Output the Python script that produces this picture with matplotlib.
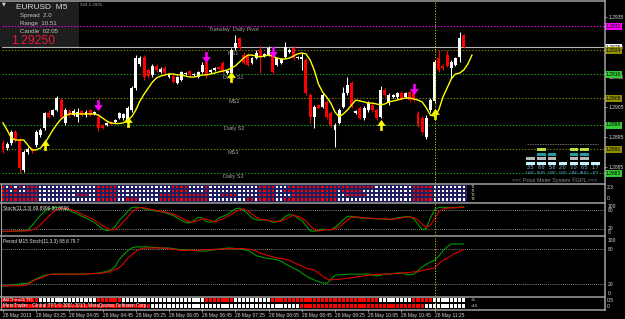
import numpy as np
import matplotlib
matplotlib.use('Agg')
import matplotlib.pyplot as plt
from matplotlib.colors import ListedColormap
from matplotlib.patches import Rectangle
from matplotlib.lines import Line2D
from matplotlib.path import Path
from matplotlib.transforms import blended_transform_factory as blend

# ---------------- data ----------------
symbol_line = 'EURUSD  M5'
spread_line = 'Spread  2.0'
range_line = 'Range  10.51'
candle_line = 'Candle  02:05'
last_price = 1.29250

opens = [1.28930, 1.28913, 1.28930, 1.28967, 1.28940, 1.28840, 1.28900, 1.28910, 1.28923, 1.28957,
         1.28980, 1.29030, 1.29023, 1.29040, 1.29073, 1.28997, 1.29037, 1.29023, 1.29017, 1.29037,
         1.29023, 1.29040, 1.29027, 1.29017, 1.28990, 1.28990, 1.29000, 1.29000, 1.29013, 1.29013,
         1.29007, 1.29040, 1.29113, 1.29193, 1.29217, 1.29173, 1.29157, 1.29187, 1.29167, 1.29180,
         1.29150, 1.29153, 1.29130, 1.29140, 1.29160, 1.29170, 1.29157, 1.29150, 1.29167, 1.29200,
         1.29167, 1.29173, 1.29183, 1.29197, 1.29163, 1.29163, 1.29247, 1.29280, 1.29223, 1.29223,
         1.29197, 1.29213, 1.29240, 1.29220, 1.29223, 1.29230, 1.29190, 1.29197, 1.29217, 1.29233,
         1.29247, 1.29213, 1.29210, 1.29207, 1.29090, 1.29017, 1.29057, 1.29050, 1.29067, 1.29030,
         1.28973, 1.28997, 1.29050, 1.29097, 1.29130, 1.29030, 1.29047, 1.29013, 1.29040, 1.29057,
         1.29040, 1.29017, 1.29107, 1.29063, 1.29083, 1.29083, 1.29097, 1.29083, 1.29100, 1.29097,
         1.29030, 1.29013, 1.28950, 1.29040, 1.29070, 1.29213, 1.29187, 1.29223, 1.29180, 1.29190,
         1.29217, 1.29290]
highs = [1.28940, 1.28933, 1.28973, 1.28973, 1.28947, 1.28907, 1.28917, 1.28913, 1.28973, 1.28980,
         1.29033, 1.29040, 1.29043, 1.29087, 1.29080, 1.29047, 1.29043, 1.29043, 1.29047, 1.29040,
         1.29040, 1.29043, 1.29037, 1.29027, 1.28993, 1.29000, 1.29003, 1.29010, 1.29033, 1.29030,
         1.29053, 1.29120, 1.29223, 1.29220, 1.29223, 1.29180, 1.29193, 1.29193, 1.29183, 1.29187,
         1.29163, 1.29160, 1.29153, 1.29170, 1.29167, 1.29173, 1.29163, 1.29170, 1.29200, 1.29223,
         1.29177, 1.29183, 1.29187, 1.29203, 1.29173, 1.29247, 1.29290, 1.29283, 1.29233, 1.29230,
         1.29217, 1.29240, 1.29257, 1.29230, 1.29253, 1.29240, 1.29217, 1.29213, 1.29267, 1.29247,
         1.29253, 1.29220, 1.29230, 1.29213, 1.29097, 1.29057, 1.29060, 1.29097, 1.29073, 1.29037,
         1.28997, 1.29047, 1.29117, 1.29150, 1.29137, 1.29040, 1.29053, 1.29053, 1.29070, 1.29063,
         1.29047, 1.29120, 1.29113, 1.29097, 1.29093, 1.29100, 1.29103, 1.29100, 1.29107, 1.29103,
         1.29037, 1.29020, 1.29023, 1.29080, 1.29207, 1.29240, 1.29193, 1.29240, 1.29207, 1.29217,
         1.29300, 1.29293]
lows = [1.28897, 1.28907, 1.28923, 1.28933, 1.28830, 1.28833, 1.28893, 1.28897, 1.28917, 1.28950,
        1.28973, 1.29013, 1.29020, 1.29037, 1.29010, 1.28990, 1.29017, 1.29020, 1.29000, 1.29020,
        1.29017, 1.29020, 1.29023, 1.28970, 1.28977, 1.28987, 1.28990, 1.28997, 1.29010, 1.29007,
        1.29000, 1.29033, 1.29107, 1.29187, 1.29140, 1.29147, 1.29150, 1.29167, 1.29163, 1.29157,
        1.29147, 1.29130, 1.29127, 1.29137, 1.29157, 1.29153, 1.29153, 1.29147, 1.29163, 1.29147,
        1.29163, 1.29170, 1.29173, 1.29163, 1.29160, 1.29153, 1.29240, 1.29240, 1.29193, 1.29187,
        1.29193, 1.29210, 1.29163, 1.29217, 1.29220, 1.29160, 1.29187, 1.29193, 1.29213, 1.29230,
        1.29207, 1.29210, 1.29173, 1.29090, 1.28997, 1.28980, 1.29043, 1.29047, 1.29010, 1.28983,
        1.28917, 1.28993, 1.29047, 1.29090, 1.29047, 1.29027, 1.29010, 1.29007, 1.29033, 1.29033,
        1.29007, 1.29013, 1.29083, 1.29057, 1.29080, 1.29077, 1.29073, 1.29080, 1.29070, 1.29067,
        1.28983, 1.28960, 1.28943, 1.29033, 1.29063, 1.29167, 1.29173, 1.29183, 1.29147, 1.29187,
        1.29200, 1.29247]
closes = [1.28907, 1.28927, 1.28967, 1.28940, 1.28847, 1.28900, 1.28910, 1.28903, 1.28967, 1.28973,
          1.29030, 1.29017, 1.29040, 1.29080, 1.29017, 1.29040, 1.29023, 1.29037, 1.29033, 1.29023,
          1.29033, 1.29023, 1.29033, 1.28980, 1.28980, 1.28997, 1.28993, 1.29007, 1.29030, 1.29027,
          1.29047, 1.29113, 1.29213, 1.29213, 1.29150, 1.29153, 1.29187, 1.29173, 1.29177, 1.29163,
          1.29160, 1.29133, 1.29150, 1.29167, 1.29163, 1.29157, 1.29160, 1.29167, 1.29190, 1.29157,
          1.29173, 1.29180, 1.29177, 1.29167, 1.29170, 1.29240, 1.29263, 1.29247, 1.29197, 1.29190,
          1.29213, 1.29230, 1.29220, 1.29227, 1.29247, 1.29167, 1.29213, 1.29210, 1.29250, 1.29240,
          1.29213, 1.29217, 1.29217, 1.29097, 1.29017, 1.29050, 1.29047, 1.29090, 1.29017, 1.28990,
          1.28990, 1.29040, 1.29097, 1.29123, 1.29050, 1.29037, 1.29013, 1.29047, 1.29063, 1.29040,
          1.29013, 1.29107, 1.29090, 1.29090, 1.29090, 1.29097, 1.29077, 1.29097, 1.29073, 1.29073,
          1.28990, 1.28967, 1.29013, 1.29073, 1.29200, 1.29173, 1.29180, 1.29187, 1.29200, 1.29213,
          1.29280, 1.29250]
ma_values = [1.28997, 1.28973, 1.28947, 1.28940, 1.28940, 1.28940, 1.28923, 1.28907, 1.28907, 1.28913,
             1.28927, 1.28950, 1.28973, 1.28993, 1.29010, 1.29020, 1.29027, 1.29027, 1.29027, 1.29027,
             1.29027, 1.29027, 1.29027, 1.29023, 1.29013, 1.29003, 1.28997, 1.28995, 1.28995, 1.28997,
             1.29007, 1.29017, 1.29040, 1.29070, 1.29093, 1.29113, 1.29133, 1.29147, 1.29153, 1.29157,
             1.29160, 1.29160, 1.29157, 1.29157, 1.29153, 1.29150, 1.29150, 1.29153, 1.29157, 1.29157,
             1.29160, 1.29163, 1.29167, 1.29170, 1.29173, 1.29180, 1.29187, 1.29200, 1.29213, 1.29223,
             1.29223, 1.29220, 1.29217, 1.29220, 1.29223, 1.29220, 1.29213, 1.29210, 1.29210, 1.29213,
             1.29220, 1.29227, 1.29230, 1.29227, 1.29207, 1.29173, 1.29127, 1.29100, 1.29083, 1.29063,
             1.29033, 1.29017, 1.29027, 1.29040, 1.29057, 1.29073, 1.29070, 1.29067, 1.29063, 1.29063,
             1.29060, 1.29057, 1.29060, 1.29067, 1.29070, 1.29073, 1.29077, 1.29080, 1.29080, 1.29077,
             1.29073, 1.29067, 1.29047, 1.29023, 1.29020, 1.29040, 1.29083, 1.29113, 1.29143, 1.29160,
             1.29163, 1.29173, 1.29193, 1.29223]

sell_signal_bars = [23, 49, 65, 99]
sell_signal_prices = [1.29057, 1.29217, 1.29233, 1.29110]
buy_signal_bars = [10, 30, 55, 91, 104]
buy_signal_prices = [1.28923, 1.29000, 1.29150, 1.28990, 1.29027]

level_prices = [1.2932, 1.2924, 1.2916, 1.2908, 1.2899, 1.2891, 1.2883]
level_names = ['Tuesday  Daily Pivot', 'MS1', 'Daily S1', 'MS2', 'Daily S2', 'MS3', 'Daily S3']
level_kinds = ['pivot', 'ms', 'daily', 'ms', 'daily', 'ms', 'daily']
price_ticks = [1.2885, 1.2895, 1.2905, 1.2915, 1.2925, 1.2935]
current_bar = 104

stoch_k = [12, 12, 13, 13, 14, 14, 17, 31, 47, 63, 75, 83, 87, 88, 86, 83, 79, 73, 67, 60,
           55, 48, 41, 31, 20, 15, 17, 27, 47, 60, 75, 88, 89, 88, 84, 81, 79, 76, 75, 72,
           67, 63, 55, 47, 41, 39, 47, 57, 55, 43, 41, 44, 55, 60, 65, 75, 84, 86, 79, 68,
           55, 49, 48, 49, 47, 41, 43, 47, 60, 65, 64, 55, 47, 31, 14, 13, 15, 20, 18, 17,
           25, 36, 49, 60, 60, 57, 55, 54, 54, 53, 52, 52, 51, 50, 52, 55, 57, 59, 59, 52,
           35, 18, 22, 55, 81, 88, 89, 88, 87, 88, 89, 90]
stoch_d = [13, 13, 13, 13, 14, 14, 14, 17, 22, 33, 47, 60, 73, 81, 86, 85, 83, 79, 73, 67,
           61, 55, 48, 40, 31, 22, 18, 18, 28, 43, 57, 73, 83, 88, 87, 84, 81, 79, 76, 74,
           71, 67, 61, 55, 47, 43, 43, 47, 52, 51, 47, 43, 47, 52, 59, 65, 75, 81, 83, 77,
           67, 57, 51, 49, 47, 45, 43, 44, 51, 57, 63, 60, 55, 44, 31, 18, 14, 16, 18, 18,
           20, 27, 37, 49, 56, 59, 57, 55, 54, 54, 53, 52, 52, 51, 51, 52, 55, 57, 58, 56,
           48, 35, 25, 32, 53, 75, 83, 86, 87, 87, 88, 88]
m15_k = [16, 17, 18, 19, 20, 21, 21, 25, 29, 32, 35, 36, 37, 37, 37, 37, 37, 37, 37, 37,
         37, 38, 38, 39, 40, 42, 44, 50, 62, 70, 77, 82, 84, 84, 84, 84, 83, 83, 82, 82,
         82, 81, 80, 79, 79, 78, 78, 77, 77, 77, 78, 79, 80, 81, 82, 82, 81, 80, 79, 78,
         74, 69, 67, 65, 64, 63, 62, 59, 55, 51, 47, 44, 39, 34, 30, 27, 24, 22, 21, 28,
         35, 36, 36, 37, 37, 37, 37, 37, 37, 35, 34, 35, 37, 37, 38, 39, 39, 37, 36, 37,
         43, 49, 54, 58, 61, 68, 77, 84, 89, 89, 89, 89]
m15_d = [17, 17, 17, 17, 17, 17, 19, 24, 28, 30, 33, 36, 37, 37, 37, 37, 37, 37, 37, 37,
         37, 38, 38, 38, 39, 40, 42, 45, 48, 55, 64, 70, 76, 80, 82, 82, 82, 82, 82, 82,
         81, 80, 79, 78, 78, 78, 78, 78, 79, 79, 79, 80, 80, 80, 81, 81, 81, 81, 81, 80,
         79, 77, 73, 71, 69, 67, 65, 64, 63, 61, 57, 54, 51, 47, 46, 44, 39, 34, 29, 27,
         28, 28, 29, 30, 31, 32, 33, 34, 35, 36, 37, 37, 37, 37, 38, 38, 39, 39, 40, 41,
         41, 43, 45, 46, 48, 55, 61, 64, 69, 73, 76, 79]
stoch_label = 'Stoch(11,3,3) 89.8999 80.8696'
m15_label = 'Period M15 Stoch(11,3,3) 88.6 79.7'

heat_rows = [
    'RWRWRWRRR' + 'WWWWWWWWWWWWWW' + 'RRRRR' + 'WWWWWWWWWW' + 'WWW' + 'RRRR' + 'WWWW' + 'R'
    + 'WWWWWWWWWWWW' + 'RRRR' + 'WW' + 'WR' + 'RRRRRRRRRRR' + 'RRRRRRRRR' + 'WWWWWWWWW' + 'RRRRR' + 'WWWWWWWW',
    'RRWRWWRRR' + 'WWWWWWWWWWWWWW' + 'RRRRR' + 'WWWWWWWWWW' + 'WWW' + 'RRRR' + 'WWWW' + 'R'
    + 'WWWWWWWWWWWW' + 'RRRR' + 'WW' + 'RR' + 'RRRRRRRRRRR' + 'WRRRRRWWW' + 'WWWWWWWWW' + 'RRRRR' + 'WWWWWWWW',
    'RRRRRRRRR' + 'WWWWWWWWWRRRWW' + 'RRRRR' + 'WWWWWWWWWW' + 'RRR' + 'RRRR' + 'RRRR' + 'R'
    + 'WWWRRRRWWWWW' + 'RRRR' + 'WW' + 'WW' + 'RRRRRRRRRRR' + 'WWRRRRRWW' + 'WWWWWWWWW' + 'RRRRR' + 'WWWWWWWW',
    'RRRRRRRRR' + 'WWWWWWWWWWWWWW' + 'RRRRR' + 'WWRRRWWWWW' + 'RRR' + 'RRRR' + 'RRRR' + 'R'
    + 'WWWWWWWWWRRW' + 'RRRR' + 'WW' + 'RR' + 'RRRRRRRRRRR' + 'WWWWWWWWW' + 'WWWWWWWWW' + 'RRRRR' + 'WWWWWWWW',
]
heat_row_labels = ['T1', 'T2', 'T3', 'T4']
asc_rows = [
    'R' * 9 + 'W' * 14 + 'R' * 6 + 'W' * 20 + 'R' * 7 + 'W' * 9 + 'R' * 26 + 'W' * 8 + 'R' * 5 + 'W' * 8,
    'R' * 36 + 'W' * 36 + 'R' * 30 + 'W' * 10,
]
asc_row_labels = ['=5', '=15']

time_tick_bars = [0, 8, 16, 24, 32, 40, 48, 56, 64, 72, 80, 88, 96, 104]
time_tick_labels = ['28 May 2013', '28 May 03:25', '28 May 04:05', '28 May 04:45', '28 May 05:25',
                    '28 May 06:05', '28 May 06:45', '28 May 07:25', '28 May 08:05', '28 May 08:45',
                    '28 May 09:25', '28 May 10:05', '28 May 10:45', '28 May 11:25']

meter_currencies = ['USD', 'EUR', 'GBP', 'CHF', 'CAD', 'AUD', 'JPY']
meter_values = [3.5, 6.6, 5.8, 2.0, 7.0, 6.5, 1.7]
meter_blocks = [2, 4, 3, 1, 4, 4, 1]

# ---------------- style ----------------
plt.rcParams['font.family'] = ['Liberation Sans', 'DejaVu Sans']

W, H = 625, 319
fig = plt.figure(figsize=(W / 100, H / 100), dpi=100)
fig.patch.set_facecolor('black')

BAR0, BAR_W = 3.0, 4.15
X0, X1 = 2, 604
XLIM = ((X0 - BAR0) / BAR_W, (X1 - BAR0) / BAR_W)


def add_px_axes(x0, y0, x1, y1, z=0):
    a = fig.add_axes([x0 / W, 1 - y1 / H, (x1 - x0) / W, (y1 - y0) / H], zorder=z)
    a.set_facecolor('none')
    for s in a.spines.values():
        s.set_visible(False)
    a.set_xticks([])
    a.set_yticks([])
    return a


def ftext(x, y, s, **kw):
    fig.text(x / W, 1 - y / H, s, **kw)


def fline(xs, ys, **kw):
    fig.add_artist(Line2D([v / W for v in xs], [1 - v / H for v in ys],
                          transform=fig.transFigure, **kw))


TXT = '#d8d8d8'
LVL_COL = {'pivot': '#ff00ff', 'ms': '#808000', 'daily': '#1f9f1f'}
BOX_COL = {'pivot': '#ff00ff', 'ms': '#8f8f00', 'daily': '#33cc33'}
DOT = (0, (1.2, 1.6))

# block-arrow markers (MT4 style signal arrows)
_down = [(-0.22, 1), (0.22, 1), (0.22, 0.05), (0.75, 0.05), (0, -1), (-0.75, 0.05),
         (-0.22, 0.05), (-0.22, 1)]
ARROW_DOWN = Path(_down, closed=True)
ARROW_UP = Path([(x, -y) for x, y in _down], closed=True)

# info box (behind the chart lines)
fig.patches.append(Rectangle((0, 1 - 47 / H), 79 / W, 46 / H, transform=fig.transFigure,
                             fc='#1e1e1e', ec='none', zorder=-1))

# ---------------- main price panel ----------------
ax = add_px_axes(X0, 2, X1, 183.3, z=1)
ax.set_xlim(*XLIM)
ax.set_ylim(1.2880 - 1.3 / 30000, 1.2880 + 180 / 30000)

o, h, l, c = map(np.array, (opens, highs, lows, closes))
xb = np.arange(len(o))
cols = np.where(c >= o, '#ffffff', '#ff0000')
ax.vlines(xb, l, h, colors=cols, lw=0.75, zorder=3)
ax.bar(xb, np.maximum(np.abs(c - o), 0.000035), bottom=np.minimum(o, c), width=0.72,
       color=cols, lw=0, zorder=4)
ax.plot(np.arange(len(ma_values)), ma_values, color='#ffff00', lw=1.0, zorder=5)

ax.axhline(last_price, color='#b4b4b4', lw=0.8, zorder=1)
for p, name, kind in zip(level_prices, level_names, level_kinds):
    ax.axhline(p, color=LVL_COL[kind], lw=0.8, ls=DOT, zorder=1)
    ax.text(55.6, p - 0.00002, name, color='#a0a0a0', fontsize=4.0, ha='center', va='top', zorder=2)

ax.plot(sell_signal_bars, sell_signal_prices, ls='none', marker=ARROW_DOWN, ms=7.5,
        mfc='#ff00ff', mec='#ff00ff', mew=0.3, zorder=6)
ax.plot(buy_signal_bars, buy_signal_prices, ls='none', marker=ARROW_UP, ms=7.5,
        mfc='#ffff00', mec='#ffff00', mew=0.3, zorder=6)

ax.yaxis.tick_right()
ax.set_yticks(price_ticks)
ax.set_yticklabels(['%.4f' % t for t in price_ticks])
ax.tick_params(axis='y', colors='#a0a0a0', labelcolor=TXT, labelsize=3.6, length=2,
               width=0.6, pad=1.2)
bt = blend(ax.transAxes, ax.transData)
ax.text(1.0035, last_price, '%.4f' % last_price, transform=bt, fontsize=3.6, color='black',
        ha='left', va='center', clip_on=False, zorder=10,
        bbox=dict(boxstyle='square,pad=0.2', fc='#ffffff', ec='none'))
for p, kind in zip(level_prices, level_kinds):
    ax.text(1.0035, p, '%.4f' % p, transform=bt, fontsize=3.6, color='black', ha='left',
            va='center', clip_on=False, zorder=10,
            bbox=dict(boxstyle='square,pad=0.2', fc=BOX_COL[kind], ec='none'))

# info box texts
ftext(2, 4, '\u25bc', color='#dddddd', fontsize=3.5, va='center', family=['DejaVu Sans'])
ftext(16, 7.5, symbol_line, color='#dcdcdc', fontsize=6, va='center')
ftext(20, 15.5, spread_line, color='#c8c8c8', fontsize=4.4, va='center')
ftext(20, 23.5, range_line, color='#c8c8c8', fontsize=4.4, va='center')
ftext(20, 31.5, candle_line, color='#c8c8c8', fontsize=4.4, va='center')
ftext(11, 41, '%.5f' % last_price, color='#e8193c', fontsize=8.8, va='center')
ftext(80, 5, '924 1.2925', color='#b0b0b0', fontsize=3.2, va='center')

# price meter widget
axm = add_px_axes(525, 147.5, 601, 165.5, z=2)
axm.set_xlim(-0.5, len(meter_values) - 0.5)
axm.set_ylim(0, 4)
meter_colors = ['#c4f4ff', '#b8b8b8', '#1e9ea0', '#b8e040']
for j, nb in enumerate(meter_blocks):
    for k in range(nb):
        axm.bar(j, 0.7, bottom=k + 0.15, width=0.8, color=meter_colors[k], lw=0)
    axm.text(j, -0.55, '%.1f' % meter_values[j], ha='center', va='center', fontsize=3.9,
             color='#8fb4c8', clip_on=False)
    axm.text(j, -1.6, meter_currencies[j], ha='center', va='center', fontsize=3.0,
             color='#5b9bd5', clip_on=False)
fline([527, 598], [144, 144], color='#707070', lw=0.6, ls=(0, (2, 1)))
ftext(555, 180.5, '<<< Price Meter System \u00a9GPL <<<', color='#8a8a8a', fontsize=3.9,
      ha='center', va='center')

# ---------------- heat map panel ----------------
axh = add_px_axes(X0, 185, X1, 201.5, z=1)
axh.set_xlim(*XLIM)
nh = len(heat_rows[0])
Z = np.array([[1 if ch == 'R' else 0 for ch in row] for row in heat_rows[::-1]])
axh.pcolormesh(np.arange(nh + 1) - 0.5, np.arange(len(heat_rows) + 1), Z,
               cmap=ListedColormap(['#ffffff', '#ff0000']), vmin=0, vmax=1,
               edgecolors='#202060', linewidth=0.2)
axh.set_ylim(0, len(heat_rows))
for r, lab in enumerate(heat_row_labels):
    axh.text(nh + 0.8, len(heat_rows) - r - 0.5, lab, color=TXT, fontsize=2.8, va='center',
             ha='left')
ftext(607, 187.5, '2.3', color=TXT, fontsize=3.6, va='center')
ftext(607, 198.5, '0', color=TXT, fontsize=3.6, va='center')

# ---------------- stochastic panels ----------------
def stoch_panel(y0, y1, k, d, label, label_frac):
    a = add_px_axes(X0, y0, X1, y1, z=1)
    a.set_xlim(*XLIM)
    a.set_ylim(0, 100)
    for lv in (20, 80):
        a.axhline(lv, color='#b0b0b0', lw=0.6, ls=(0, (1, 1.5)))
    a.plot(np.arange(len(k)), k, color='#009a00', lw=0.8)
    a.plot(np.arange(len(d)), d, color='#dd0000', lw=0.8)
    a.text(0.002, label_frac, label, transform=a.transAxes, color='#e8e8e8', fontsize=3.4,
           va='center', ha='left')
    tb = blend(a.transAxes, a.transData)
    for v, va in ((100, 'top'), (80, 'center'), (20, 'center'), (0, 'bottom')):
        a.text(1.006, v, str(v), transform=tb, color=TXT, fontsize=3.6, va=va, ha='left',
               clip_on=False)
    return a


axs = stoch_panel(203.7, 235.3, stoch_k, stoch_d, stoch_label, 0.86)
ax15 = stoch_panel(237.6, 295.6, m15_k, m15_d, m15_label, 0.93)

# ---------------- ASC trend strip ----------------
axa = add_px_axes(X0, 297.3, X1, 309.3, z=1)
axa.set_xlim(*XLIM)
axa.set_ylim(0, 2)
for r, row in enumerate(asc_rows):
    base = 1.2 if r == 0 else 0.2
    colors = ['#ff0000' if ch == 'R' else '#ffffff' for ch in row]
    axa.bar(np.arange(len(row)), 0.62, bottom=base, width=0.78, color=colors, lw=0)
    axa.text(len(row) + 0.6, base + 0.31, asc_row_labels[r], color=TXT, fontsize=3.2,
             va='center', ha='left')
ftext(3, 299.6, 'ASCTrend1(TF)', color='white', fontsize=3.2, va='center')
ftext(3, 305.6, 'MetaTrader - Global TFS \u00a9 2001-2013, MetaQuotes Software Corp.',
      color='white', fontsize=3.4, va='center')
ftext(607, 300.5, '0.5', color=TXT, fontsize=3.6, va='center')
ftext(607, 306.5, '0', color=TXT, fontsize=3.6, va='center')

axa.set_xticks(time_tick_bars)
axa.set_xticklabels(time_tick_labels)
axa.tick_params(axis='x', color='#a0a0a0', labelcolor=TXT, labelsize=3.5, length=2,
                width=0.6, pad=0.8)
for lab in axa.get_xticklabels():
    lab.set_ha('left')

# current-bar marker through all panels
for a in (ax, axh, axs, ax15, axa):
    a.axvline(current_bar, color='#c8c800', lw=0.7, ls=DOT, zorder=7)

# window frame / separators
SEP = '#a0a0a0'
for yy in (1.2, 184.0, 202.6, 236.4, 296.6, 309.6):
    fline([0, 604.5], [yy, yy], color=SEP, lw=1.1)
fline([604.5, 604.5], [1.2, 309.6], color=SEP, lw=1.1)
fline([0.8, 0.8], [184, 309.6], color=SEP, lw=0.8)

fig.savefig('out.png', dpi=100, facecolor='black')
